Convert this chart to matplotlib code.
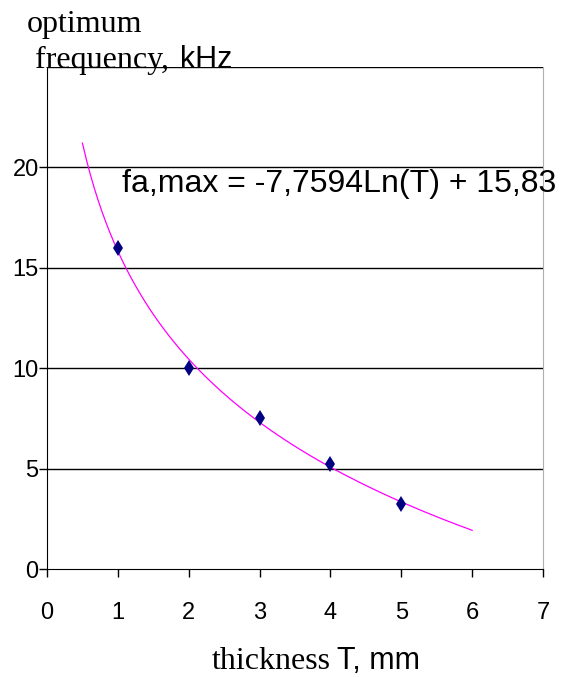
import numpy as np
import matplotlib.pyplot as plt

# measured points
thickness = [1, 2, 3, 4, 5]
freq = [16.0, 10.0, 7.5, 5.25, 3.25]

# log trendline coefficients from the chart label
a, b = -7.7594, 15.83
t_fit = np.linspace(0.5, 6, 200)
f_fit = a * np.log(t_fit) + b

x_ticks = [0, 1, 2, 3, 4, 5, 6, 7]
y_ticks = [0, 5, 10, 15, 20]

fig = plt.figure(figsize=(5.72, 6.77), dpi=100)
ax = fig.add_axes([47 / 572, 108 / 677, 496 / 572, 502 / 677])

for y in [5, 10, 15, 20, 25]:
    ax.axhline(y, color='black', lw=1.0, zorder=1)

ax.plot(t_fit, f_fit, color='#ff00ff', lw=0.9, zorder=2)
ax.plot(thickness, freq, 'd', color='#000080', ms=8, mew=0, zorder=3)

ax.set_xlim(0, 7)
ax.set_ylim(0, 25)
ax.set_xticks(x_ticks)
ax.set_yticks(y_ticks)
ax.tick_params(direction='out', length=6, width=1, colors='black',
               labelsize=17)
ax.tick_params(axis='x', pad=18)
ax.tick_params(axis='y', pad=0)
for lab in ax.get_xticklabels() + ax.get_yticklabels():
    lab.set_fontfamily('Liberation Sans')

ax.spines['top'].set_visible(False)
ax.spines['right'].set_color('#b0b0b0')
ax.spines['left'].set_color('black')
ax.spines['bottom'].set_color('black')

fig.text(122 / 572, 1 - 192 / 677, 'fa,max = -7,7594Ln(T) + 15,83',
         fontsize=23, family='Liberation Sans', va='baseline', ha='left')

# axis titles, mixed serif / sans like the original
fig.text(27 / 572, 1 - 32 / 677, 'optimum', fontsize=23,
         family='Liberation Serif', va='baseline')
fig.text(35 / 572, 1 - 68 / 677, 'frequency,', fontsize=23,
         family='Liberation Serif', va='baseline')
fig.text(180 / 572, 1 - 68 / 677, 'kHz', fontsize=22,
         family='Liberation Sans', va='baseline')
fig.text(212 / 572, 1 - 669 / 677, 'thickness', fontsize=23,
         family='Liberation Serif', va='baseline')
fig.text(337 / 572, 1 - 669 / 677, 'T, mm', fontsize=22,
         family='Liberation Sans', va='baseline')

fig.savefig('out.png', dpi=100)
